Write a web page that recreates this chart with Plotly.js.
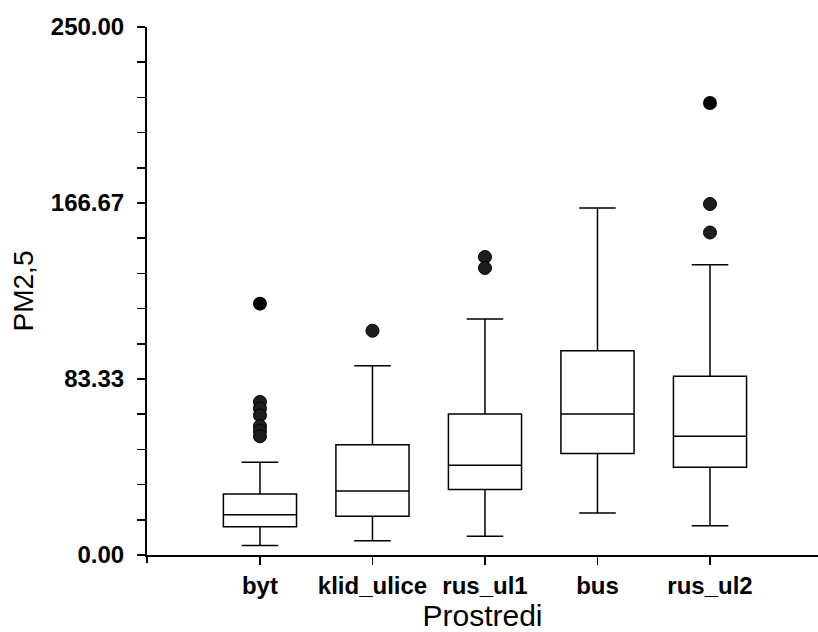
<!DOCTYPE html>
<html>
<head>
<meta charset="utf-8">
<script src="https://cdn.plot.ly/plotly-3.0.1.min.js"></script>
<style>
  html, body { margin: 0; padding: 0; background: #ffffff; }
  #chart { width: 818px; height: 632px; }
</style>
</head>
<body>
<div id="chart"></div>
<script>
// ---- data ----
const categories   = ['byt', 'klid_ulice', 'rus_ul1', 'bus', 'rus_ul2'];
const lowerWhisker = [4.5, 6.7, 8.9, 19.9, 13.9];
const q1Values     = [13.4, 18.3, 31.0, 48.0, 41.5];
const medianValues = [19.1, 30.3, 42.5, 66.8, 56.2];
const q3Values     = [28.9, 52.2, 66.8, 96.7, 84.6];
const upperWhisker = [43.9, 89.6, 111.7, 164.3, 137.4];

// outliers drawn as speckled dark circles
const outlierCat = ['byt', 'byt', 'byt', 'byt', 'byt', 'byt',
                    'klid_ulice', 'rus_ul1', 'rus_ul1', 'rus_ul2', 'rus_ul2'];
const outlierVal = [72.5, 69.4, 66.1, 61.0, 58.8, 56.2,
                    106.2, 141.1, 135.9, 166.2, 152.7];
// extreme values drawn as solid black dots
const extremeCat = ['byt', 'rus_ul2'];
const extremeVal = [119.0, 214.0];

const yTickVals = [0, 83.33, 166.67, 250];
const yTickText = ['0.00', '83.33', '166.67', '250.00'];
const xTitle = 'Prostredi';
const yTitle = 'PM2,5';

// ---- traces ----
const boxTrace = {
  type: 'box',
  x: categories,
  q1: q1Values,
  median: medianValues,
  q3: q3Values,
  lowerfence: lowerWhisker,
  upperfence: upperWhisker,
  boxpoints: false,
  width: 0.65,
  whiskerwidth: 0.5,
  fillcolor: 'rgba(255,255,255,0)',
  line: { color: '#000000', width: 1.5 },
  showlegend: false,
  hoverinfo: 'skip'
};

const outlierTrace = {
  type: 'scatter',
  mode: 'markers',
  x: outlierCat,
  y: outlierVal,
  marker: { size: 13, color: '#1e1e1e', line: { color: '#000000', width: 1 } },
  showlegend: false,
  hoverinfo: 'skip'
};

const extremeTrace = {
  type: 'scatter',
  mode: 'markers',
  x: extremeCat,
  y: extremeVal,
  marker: { size: 14, color: '#000000', line: { width: 0 } },
  showlegend: false,
  hoverinfo: 'skip'
};

const layout = {
  width: 818,
  height: 632,
  paper_bgcolor: '#ffffff',
  plot_bgcolor: '#ffffff',
  margin: { l: 147, r: 0, t: 27, b: 77, pad: 0 },
  showlegend: false,
  xaxis: {
    type: 'category',
    categoryorder: 'array',
    categoryarray: categories,
    range: [-1.004, 4.96],
    showgrid: false,
    zeroline: false,
    showline: true,
    linecolor: '#000000',
    linewidth: 2,
    ticks: 'outside',
    ticklen: 8,
    tickwidth: 1.5,
    tickcolor: '#000000',
    tickfont: { family: 'Liberation Sans, Arial, sans-serif', size: 24, color: '#000000', weight: 'bold' },
    title: {
      text: xTitle,
      font: { family: 'Liberation Sans, Arial, sans-serif', size: 30, color: '#000000' },
      standoff: 2
    },
    automargin: false,
    fixedrange: true
  },
  yaxis: {
    range: [0, 250],
    showgrid: false,
    zeroline: false,
    showline: true,
    linecolor: '#000000',
    linewidth: 2,
    tickmode: 'array',
    tickvals: yTickVals,
    ticktext: yTickText,
    ticks: 'outside',
    ticklen: 8,
    tickwidth: 1.5,
    tickcolor: '#000000',
    ticklabelstandoff: 8,
    minor: {
      tickmode: 'linear',
      tick0: 0,
      dtick: 250 / 15,
      ticks: 'outside',
      ticklen: 8,
      tickwidth: 1.5,
      tickcolor: '#000000',
      showgrid: false
    },
    tickfont: { family: 'Liberation Sans, Arial, sans-serif', size: 24, color: '#000000', weight: 'bold' },
    title: {
      text: yTitle,
      font: { family: 'Liberation Sans, Arial, sans-serif', size: 28, color: '#000000' },
      standoff: 9
    },
    automargin: false,
    fixedrange: true
  },
  shapes: [
    {
      type: 'line', xref: 'paper', yref: 'paper',
      x0: 0, x1: 0, ysizemode: 'pixel', yanchor: 0, y0: 0, y1: -8,
      line: { color: '#000000', width: 2 }
    }
  ]
};

Plotly.newPlot('chart', [boxTrace, outlierTrace, extremeTrace], layout, { staticPlot: true, displayModeBar: false });
</script>
</body>
</html>
